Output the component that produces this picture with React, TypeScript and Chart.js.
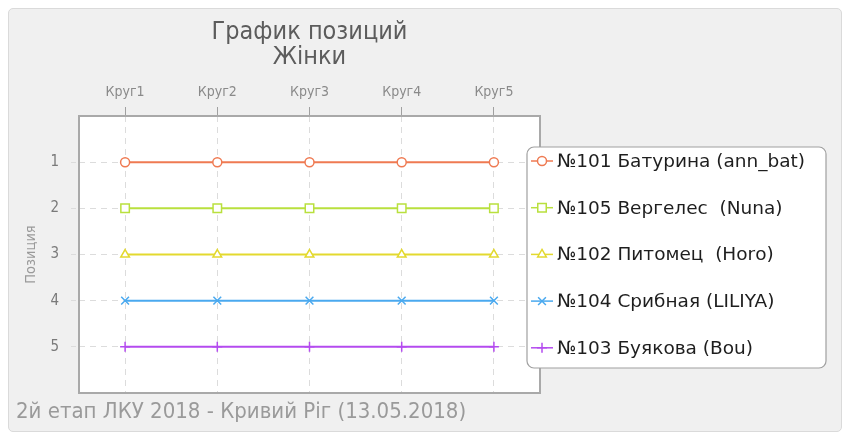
import React, { useEffect, useRef } from "react";
import { Chart, registerables } from "chart.js";
import { drawPoint } from "chart.js/helpers";

Chart.register(...registerables);

const categories = ["Круг1", "Круг2", "Круг3", "Круг4", "Круг5"];
const seriesNames = [
  "№101 Батурина (ann_bat)",
  "№105 Вергелес  (Nuna)",
  "№102 Питомец  (Ноrо)",
  "№104 Срибная (LILIYA)",
  "№103 Буякова (Bou)",
];
const s101 = [1, 1, 1, 1, 1];
const s105 = [2, 2, 2, 2, 2];
const s102 = [3, 3, 3, 3, 3];
const s104 = [4, 4, 4, 4, 4];
const s103 = [5, 5, 5, 5, 5];
const seriesValues = [s101, s105, s102, s104, s103];
const seriesColors = ["#ef7a52", "#b9e03e", "#e3d92f", "#4aa9ef", "#b44bef"];
const pointStyles = ["circle", "rect", "triangle", "crossRot", "cross"];
const pointRadii = [4.5, 6, 5, 5.5, 5];
const yTickValues = [1, 2, 3, 4, 5];
const titleLines = ["График позиций", "Жінки"];
const subtitleText = "2й етап ЛКУ 2018 - Кривий Ріг (13.05.2018)";
const yAxisTitle = "Позиция";

const CONDENSED = "'DejaVu Sans Condensed', 'DejaVu Sans', sans-serif";

const decorPlugin = {
  id: "decor",
  beforeDraw(chart: any) {
    const { ctx, chartArea: a } = chart;
    ctx.save();
    ctx.fillStyle = "#ffffff";
    ctx.fillRect(a.left, a.top, a.right - a.left, a.bottom - a.top);
    ctx.restore();
  },
  beforeDatasetsDraw(chart: any) {
    const { ctx, chartArea: a } = chart;
    ctx.save();
    ctx.strokeStyle = "#a9a9a9";
    ctx.lineWidth = 2;
    ctx.strokeRect(a.left, a.top, a.right - a.left, a.bottom - a.top);
    ctx.restore();
  },
  afterDraw(chart: any) {
    const { ctx, chartArea: a } = chart;
    ctx.save();
    // title
    ctx.fillStyle = "#5c5c5c";
    ctx.font = `25px ${CONDENSED}`;
    ctx.textAlign = "center";
    ctx.textBaseline = "middle";
    const cx = (a.left + a.right) / 2;
    titleLines.forEach((t, i) => ctx.fillText(t, cx, 24 + i * 25));
    // subtitle
    ctx.fillStyle = "#9a9a9a";
    ctx.font = `22px ${CONDENSED}`;
    ctx.textAlign = "left";
    ctx.fillText(subtitleText, 8, 404);
    // legend
    const bx = 519, by = 139, bw = 299, bh = 221, r = 7;
    ctx.beginPath();
    ctx.moveTo(bx + r, by);
    ctx.arcTo(bx + bw, by, bx + bw, by + bh, r);
    ctx.arcTo(bx + bw, by + bh, bx, by + bh, r);
    ctx.arcTo(bx, by + bh, bx, by, r);
    ctx.arcTo(bx, by, bx + bw, by, r);
    ctx.closePath();
    ctx.fillStyle = "#ffffff";
    ctx.fill();
    ctx.strokeStyle = "#a0a0a0";
    ctx.lineWidth = 1.2;
    ctx.stroke();
    const rowStep = 46.7;
    seriesNames.forEach((name, i) => {
      const y = by + 14 + i * rowStep;
      ctx.strokeStyle = seriesColors[i];
      ctx.lineWidth = 1.5;
      ctx.beginPath();
      ctx.moveTo(bx + 4, y);
      ctx.lineTo(bx + 26, y);
      ctx.stroke();
      ctx.fillStyle = "#ffffff";
      drawPoint(ctx, { pointStyle: pointStyles[i], radius: pointRadii[i], rotation: 0, borderWidth: 1.3 } as any, bx + 15, y);
      ctx.fillStyle = "#1e1e1e";
      ctx.font = "18.5px 'DejaVu Sans', sans-serif";
      ctx.textAlign = "left";
      ctx.textBaseline = "middle";
      ctx.fillText(name, bx + 30, y + 1);
    });
    ctx.restore();
  },
};

export default function App() {
  const ref = useRef<HTMLCanvasElement | null>(null);
  useEffect(() => {
    if (!ref.current) return;
    const chart = new Chart(ref.current, {
      type: "line",
      data: {
        labels: categories,
        datasets: seriesNames.map((n, i) => ({
          label: n,
          data: seriesValues[i],
          borderColor: seriesColors[i],
          backgroundColor: "#ffffff",
          pointBorderColor: seriesColors[i],
          pointBackgroundColor: "#ffffff",
          pointStyle: pointStyles[i] as any,
          pointRadius: pointRadii[i],
          pointBorderWidth: 1.5,
          borderWidth: 2,
          tension: 0,
        })),
      },
      options: {
        animation: false,
        responsive: false,
        devicePixelRatio: 1,
        layout: { padding: { top: 68, left: 0, right: 302, bottom: 39 } },
        plugins: { legend: { display: false }, tooltip: { enabled: false }, title: { display: false } },
        scales: {
          x: {
            position: "top",
            offset: true,
            afterFit: (s: any) => { s.height = 40; },
            grid: {
              color: "#dcdcdc",
              tickLength: 9,
              tickColor: "#a0a0a0",
              tickBorderDash: [] as any,
              offset: false,
              lineWidth: 1,
            } as any,
            border: { display: false, dash: [6, 5] },
            ticks: { color: "#8a8a8a", font: { family: CONDENSED, size: 14 }, padding: 6 },
          },
          y: {
            reverse: true,
            min: 0,
            max: 6,
            afterFit: (s: any) => { s.width = 71; },
            afterBuildTicks: (s: any) => {
              s.ticks = yTickValues.map((v) => ({ value: v }));
            },
            grid: {
              color: "#dcdcdc",
              tickLength: 8,
              tickBorderDash: [5, 4] as any,
              lineWidth: 1,
            } as any,
            border: { display: false, dash: [6, 5] },
            ticks: { color: "#7a7a7a", font: { family: CONDENSED, size: 15 }, padding: 12 },
            title: {
              display: true,
              text: yAxisTitle,
              color: "#9a9a9a",
              font: { family: CONDENSED, size: 14.5 },
              padding: { top: 15, bottom: 0 },
            },
          },
        },
      },
      plugins: [decorPlugin],
    });
    return () => chart.destroy();
  }, []);
  return (
    <div
      style={{
        position: "absolute",
        left: 8,
        top: 8,
        width: 834,
        height: 424,
        background: "#f0f0f0",
        border: "1px solid #dadada",
        borderRadius: 5,
        boxSizing: "border-box",
      }}
    >
      <canvas ref={ref} width={834} height={424} style={{ position: "absolute", left: -1, top: -1 }} />
    </div>
  );
}
